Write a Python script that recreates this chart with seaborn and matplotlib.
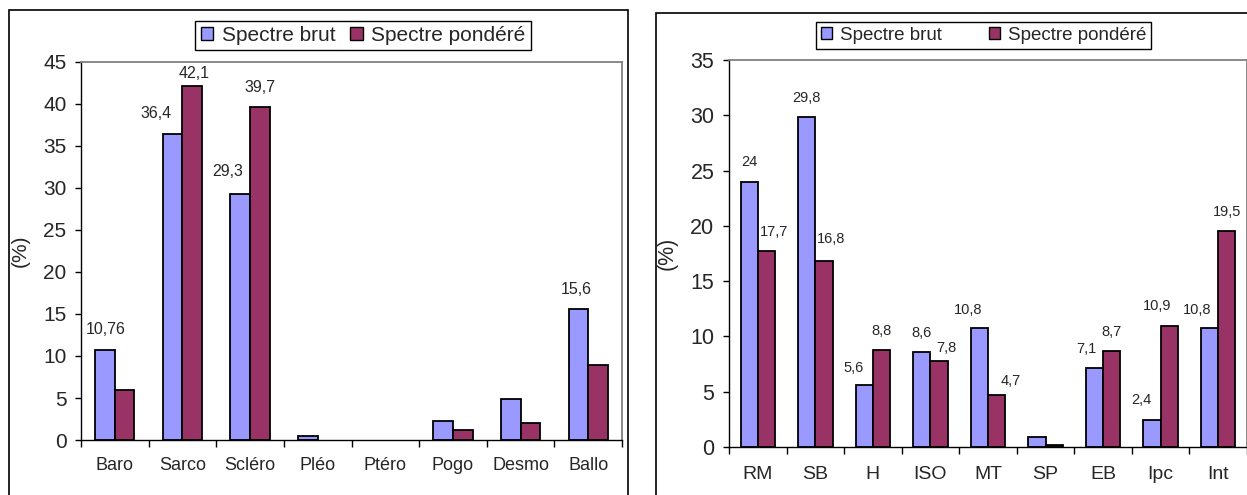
import numpy as np
import pandas as pd
import matplotlib
matplotlib.use("Agg")
import matplotlib.pyplot as plt
import seaborn as sns
from matplotlib.patches import Patch, Rectangle

# ---- data -------------------------------------------------------------
series = ["Spectre brut", "Spectre pondéré"]
colors = ["#9999FF", "#993366"]

# Biological types (left panel)
cats_bio = ["Baro", "Sarco", "Scléro", "Pléo", "Ptéro", "Pogo", "Desmo", "Ballo"]
brut_bio = [10.76, 36.4, 29.3, 0.5, 0.0, 2.3, 4.9, 15.6]
pond_bio = [6.0, 42.1, 39.7, 0.0, 0.0, 1.15, 2.05, 8.9]
show_brut_bio = [True, True, True, False, False, False, False, True]
show_pond_bio = [False, True, True, False, False, False, False, False]

# Chorological types (right panel)
cats_chor = ["RM", "SB", "H", "ISO", "MT", "SP", "EB", "Ipc", "Int"]
brut_chor = [24, 29.8, 5.6, 8.6, 10.8, 0.9, 7.1, 2.4, 10.8]
pond_chor = [17.7, 16.8, 8.8, 7.8, 4.7, 0.2, 8.7, 10.9, 19.5]
show_brut_chor = [True, True, True, True, True, False, True, True, True]
show_pond_chor = [True, True, True, True, True, False, True, True, True]

# label nudges in pixels (dx, dy above bar top)
nudge_brut_bio = [(1, 20), (-17, 21), (-13, 22), (0, 0), (0, 0), (0, 0), (0, 0), (-2, 19)]
nudge_pond_bio = [(0, 0), (2, 13), (0, 19), (0, 0), (0, 0), (0, 0), (0, 0), (0, 0)]
nudge_brut_chor = [(0, 20), (0, 19), (-11, 17), (0, 19), (-11, 18), (0, 0), (-8, 19), (-11, 20), (-12, 18)]
nudge_pond_chor = [(8, 19), (7, 22), (0, 19), (7, 13), (14, 14), (0, 0), (0, 19), (-12, 20), (0, 19)]

W, H = 1247, 495

sns.set_style("white")
plt.rcParams["font.family"] = ["Liberation Sans", "DejaVu Sans"]


def fmt(v):
    return f"{v:g}".replace(".", ",")


def fx(px):
    return px / W


def fy(py):
    return 1 - py / H


def panel(fig, box, cats, brut, pond, shows, nudges, ymax, width,
          tick_fs, xlab_fs, val_fs, xpad, ypad, ylab_x):
    x0, y0, x1, y1 = box
    ax = fig.add_axes([fx(x0), fy(y1), fx(x1 - x0), (y1 - y0) / H])
    n = len(cats)
    df = pd.DataFrame({
        "cat": cats * 2,
        "val": list(brut) + list(pond),
        "serie": [series[0]] * n + [series[1]] * n,
    })
    sns.barplot(data=df, x="cat", y="val", hue="serie", order=cats,
                hue_order=series, palette=colors, saturation=1, width=width,
                edgecolor="black", linewidth=1.3, errorbar=None,
                legend=False, ax=ax)
    ax.set_xlim(-0.5, n - 0.5)
    ax.set_ylim(0, ymax)
    ax.set_yticks(np.arange(0, ymax + 1, 5))
    ax.tick_params(axis="y", direction="out", length=4.5, width=1,
                   labelsize=tick_fs, pad=ypad, left=True, color="black")
    # category boundaries carry the tick marks, centres carry the labels
    ax.set_xticks(np.arange(n + 1) - 0.5)
    ax.set_xticklabels([""] * (n + 1))
    ax.set_xticks(np.arange(n), minor=True)
    ax.set_xticklabels(cats, minor=True)
    ax.tick_params(axis="x", which="major", direction="out", length=5,
                   width=1, bottom=True, color="black")
    ax.tick_params(axis="x", which="minor", length=0, labelsize=xlab_fs,
                   pad=xpad)
    ax.set_xlabel("")
    ax.set_ylabel("(%)", fontsize=tick_fs)
    ax.yaxis.set_label_coords(ylab_x, 0.5)
    for side in ("left", "bottom"):
        ax.spines[side].set_color("black")
        ax.spines[side].set_linewidth(1.0)
    for side in ("top", "right"):
        ax.spines[side].set_color("#808080")
        ax.spines[side].set_linewidth(1.3)
        ax.spines[side].set_visible(True)
    ax.grid(False)

    for cont, vals, show, nud in zip(ax.containers, (brut, pond), shows, nudges):
        for patch, v, s, (dx, dy) in zip(cont, vals, show, nud):
            if v == 0:
                patch.set_linewidth(0)
            if not s:
                continue
            ax.annotate(fmt(v),
                        xy=(patch.get_x() + patch.get_width() / 2, patch.get_height()),
                        xytext=(dx, dy), textcoords="offset pixels",
                        ha="center", va="center", fontsize=val_fs)
    return ax


def legend(fig, cx, cy, fs, colspace):
    handles = [Patch(facecolor=c, edgecolor="black", linewidth=1.0) for c in colors]
    leg = fig.legend(handles, series, loc="center",
                     bbox_to_anchor=(fx(cx), fy(cy)), ncol=2, fontsize=fs,
                     frameon=True, fancybox=False, edgecolor="black",
                     framealpha=1, handlelength=0.62, handleheight=0.62,
                     handletextpad=0.4, columnspacing=colspace,
                     borderpad=0.25, borderaxespad=0)
    leg.get_frame().set_linewidth(1.0)
    return leg


fig = plt.figure(figsize=(W / 100, H / 100), dpi=100)

# outer chart frames
fig.add_artist(Rectangle((fx(9), fy(510)), fx(628 - 9), (510 - 10) / H,
                         transform=fig.transFigure, fill=False,
                         edgecolor="black", linewidth=1.2, clip_on=False))
fig.add_artist(Rectangle((fx(656), fy(510)), fx(1270 - 656), (510 - 13) / H,
                         transform=fig.transFigure, fill=False,
                         edgecolor="black", linewidth=1.2, clip_on=False))

panel(fig, (81, 62, 622, 440), cats_bio, brut_bio, pond_bio,
      (show_brut_bio, show_pond_bio), (nudge_brut_bio, nudge_pond_bio),
      45, 0.58, 15, 13, 11.5, 12, 6, -0.094)
panel(fig, (729, 60, 1247, 447), cats_chor, brut_chor, pond_chor,
      (show_brut_chor, show_pond_chor), (nudge_brut_chor, nudge_pond_chor),
      35, 0.6, 15.5, 14, 10.5, 14, 6, -0.10)

legend(fig, 363, 35.5, 15, 0.7)
legend(fig, 983.5, 35.5, 13.5, 2.5)

fig.savefig("out.png", dpi=100)
